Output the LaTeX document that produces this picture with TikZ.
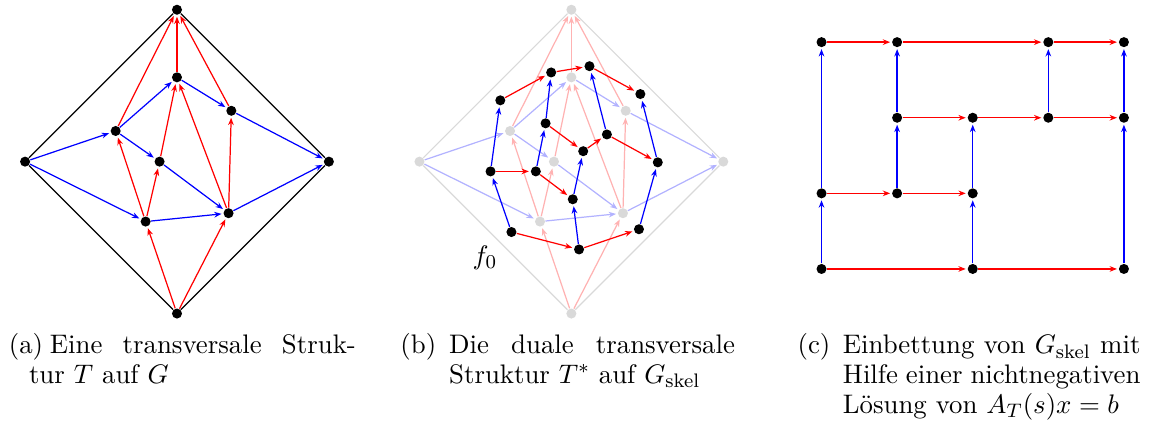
\documentclass[tikz,border=0pt]{standalone}
\usepackage{amsmath}
\usepackage{tikz}
\usetikzlibrary{arrows.meta,positioning,calc}
\tikzset{
  vertex/.style={circle,fill=black,inner sep=0pt,minimum size=4.1pt},
  edgearrow/.style={-{Stealth[length=3pt,width=2.3pt]},shorten >=0.6pt,line width=0.5pt},
  redarrow/.style={edgearrow,draw=red},
  bluearrow/.style={edgearrow,draw=blue},
  outline/.style={draw=black,line width=0.5pt},
  subcap/.style={anchor=north west,inner sep=0pt,text width=#1,align=justify,
    font=\fontsize{10.95}{12.2}\selectfont}
}
% the primal graph G with its transversal structure
\newcommand{\primalgraph}{%
  \node[vertex] (T) at (0,2.18) {};
  \node[vertex] (B) at (0,-2.18) {};
  \node[vertex] (L) at (-2.18,0) {};
  \node[vertex] (R) at (2.18,0) {};
  \node[vertex] (v1) at (0,1.21) {};
  \node[vertex] (v2) at (0.78,0.73) {};
  \node[vertex] (v3) at (-0.88,0.44) {};
  \node[vertex] (v4) at (-0.25,0) {};
  \node[vertex] (v5) at (-0.45,-0.86) {};
  \node[vertex] (v6) at (0.74,-0.74) {};
  \draw[outline] (T) -- (L) -- (B) -- (R) -- (T);
  \foreach \s/\t in {L/v3,L/v5,v3/v1,v3/v4,v1/v2,v2/R,v4/v6,v5/v6,v6/R}
    \draw[bluearrow] (\s) -- (\t);
  \foreach \s/\t in {v3/T,v1/T,v2/T,v5/v3,v5/v4,v4/v1,v6/v1,v6/v2,B/v5,B/v6}
    \draw[redarrow] (\s) -- (\t);
}

\begin{document}
\begin{tikzpicture}[x=1.0cm,y=1.0cm]
  \useasboundingbox (0,0) rectangle (16.49,6.07);
  % (a)
  \begin{scope}[shift={(2.54,3.75)},name prefix=a-]
    \primalgraph
  \end{scope}
  % (b) faded primal graph, dual on top
  \begin{scope}[shift={(8.20,3.75)},name prefix=b-,
      vertex/.style={circle,fill=black!15,inner sep=0pt,minimum size=4.1pt},
      redarrow/.style={edgearrow,draw=red!30},
      bluearrow/.style={edgearrow,draw=blue!30},
      outline/.style={draw=black!15,line width=0.5pt}]
    \primalgraph
  \end{scope}
  \begin{scope}[shift={(8.20,3.75)},name prefix=b-]
    \node[vertex] (d1) at (-1.02,0.88) {};
    \node[vertex] (d2) at (-0.29,1.28) {};
    \node[vertex] (d3) at (0.26,1.37) {};
    \node[vertex] (d4) at (0.99,0.97) {};
    \node[vertex] (d5) at (-0.37,0.55) {};
    \node[vertex] (d6) at (0.51,0.39) {};
    \node[vertex] (d7) at (0.17,0.15) {};
    \node[vertex] (d8) at (1.24,-0.01) {};
    \node[vertex] (d9) at (-1.16,-0.14) {};
    \node[vertex] (d10) at (-0.51,-0.14) {};
    \node[vertex] (d11) at (0.02,-0.54) {};
    \node[vertex] (d12) at (-0.86,-1.01) {};
    \node[vertex] (d13) at (0.11,-1.26) {};
    \node[vertex] (d14) at (0.97,-0.97) {};
    \foreach \s/\t in {d1/d2,d2/d3,d3/d4,d5/d7,d7/d6,d6/d8,d9/d10,d10/d11,d12/d13,d13/d14}
      \draw[redarrow] (\s) -- (\t);
    \foreach \s/\t in {d12/d9,d9/d1,d10/d5,d5/d2,d13/d11,d11/d7,d6/d3,d14/d8,d8/d4}
      \draw[bluearrow] (\s) -- (\t);
    \node[font=\fontsize{10.95}{12.2}\selectfont] (f0) at (-1.24,-1.38) {$f_0$};
  \end{scope}
  % (c) embedding of the skeleton
  \begin{scope}[shift={(11.79,2.21)},edgearrow/.append style={line width=0.6pt}]
    \foreach \i/\j in {0/0,2/0,4/0,0/1,1/1,2/1,1/2,2/2,3/2,4/2,0/3,1/3,3/3,4/3}
      \node[vertex] (c\i\j) at (\i*1.085,\j*1.085) {};
    \foreach \s/\t in {c00/c20,c20/c40,c01/c11,c11/c21,c12/c22,c22/c32,c32/c42,c03/c13,c13/c33,c33/c43}
      \draw[redarrow] (\s) -- (\t);
    \foreach \s/\t in {c00/c01,c01/c03,c11/c12,c12/c13,c20/c21,c21/c22,c32/c33,c40/c42,c42/c43}
      \draw[bluearrow] (\s) -- (\t);
  \end{scope}
  % captions
  \node[subcap=4.98cm] (capa) at (0.12,1.29)
    {\hangindent=0.29cm\hangafter=1\noindent\makebox[0.59cm][l]{(a)}Eine transversale Struk-\linebreak tur $T$ auf $G$\par};
  \node[subcap=4.80cm] (capb) at (5.74,1.29)
    {\hangindent=0.70cm\hangafter=1\noindent\makebox[0.70cm][l]{(b)}Die duale transversale\linebreak Struktur $T^*$ auf $G_{\mathrm{skel}}$\par};
  \node[subcap=4.92cm] (capc) at (11.44,1.29)
    {\hangindent=0.65cm\hangafter=1\noindent\makebox[0.65cm][l]{(c)}Einbettung von $G_{\mathrm{skel}}$ mit\linebreak Hilfe einer nichtnegativen\linebreak Lösung von $A_T(s)x=b$\par};
\end{tikzpicture}
\end{document}
